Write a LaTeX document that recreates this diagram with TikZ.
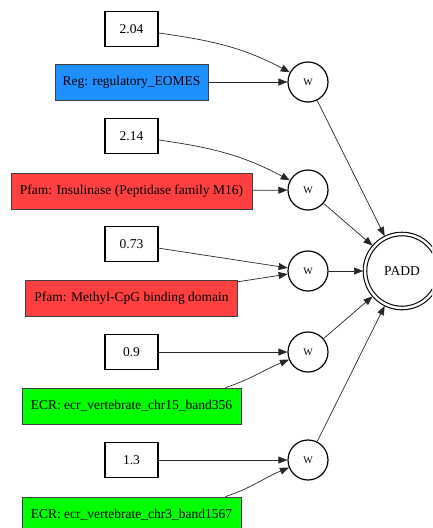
\documentclass[tikz,border=0pt]{standalone}
\usepackage{fontspec}
\setmainfont{Liberation Serif}
\usetikzlibrary{arrows.meta}
\definecolor{regblue}{HTML}{1E90FF}
\definecolor{pfamred}{HTML}{FF4040}
\definecolor{ecrgreen}{HTML}{00FF00}
\tikzset{
  lbl/.style={font=\fontsize{13.5}{15}\selectfont},
  numbox/.style={lbl, draw=black, line width=1.4pt, minimum width=53pt, minimum height=35pt, inner sep=2pt},
  featbox/.style={lbl, draw=black!75, line width=0.8pt, minimum height=36pt, inner sep=2pt},
  wnode/.style={circle, draw=black, line width=1.2pt, minimum size=40pt, inner sep=0pt, font=\fontsize{10}{12}\selectfont},
  outnode/.style={circle, draw=black, line width=1.1pt, double, double distance=2.4pt, minimum size=74pt, inner sep=0pt, outer sep=2pt, lbl},
  link/.style={draw=black!85, line width=0.7pt, -{Triangle[length=9pt, width=7pt]}}
}
\begin{document}
\begin{tikzpicture}[x=1pt, y=-1pt]
  \useasboundingbox (0,0) rectangle (432,528);
  \clip (0,0) rectangle (432,528);

  % weights and features
  \node[numbox] (n1) at (131.5,29) {2.04};
  \node[featbox, fill=regblue, minimum width=153pt] (f1) at (131.5,82) {Reg: regulatory\_EOMES};
  \node[numbox] (n2) at (131.5,136) {2.14};
  \node[featbox, fill=pfamred, minimum width=241pt] (f2) at (131.5,191) {Pfam: Insulinase (Peptidase family M16)};
  \node[numbox] (n3) at (131.5,244) {0.73};
  \node[featbox, fill=pfamred, minimum width=212pt] (f3) at (131.5,298) {Pfam: Methyl-CpG binding domain};
  \node[numbox] (n4) at (131.5,352) {0.9};
  \node[featbox, fill=ecrgreen, minimum width=219pt] (f4) at (131.5,406) {ECR: ecr\_vertebrate\_chr15\_band356};
  \node[numbox] (n5) at (131.5,460) {1.3};
  \node[featbox, fill=ecrgreen, minimum width=219pt] (f5) at (131.5,515) {ECR: ecr\_vertebrate\_chr3\_band1567};

  % product nodes
  \node[wnode] (w1) at (308,82) {W};
  \node[wnode] (w2) at (308,190) {W};
  \node[wnode] (w3) at (308,271) {W};
  \node[wnode] (w4) at (308,352) {W};
  \node[wnode] (w5) at (308,460) {W};

  % output
  \node[outnode] (padd) at (402,271) {PADD};

  % edges into the product nodes
  \draw[link] ([yshift=-4pt]n1.east) to[out=-8, in=152] (w1);
  \draw[link] (f1) -- (w1);
  \draw[link] ([yshift=-4pt]n2.east) to[out=-8, in=152] (w2);
  \draw[link] (f2) -- (w2);
  \draw[link] (n3) -- (w3);
  \draw[link] (f3) -- (w3);
  \draw[link] (n4) -- (w4);
  \draw[link] ([xshift=-16pt]f4.north east) to[out=18, in=202] (w4);
  \draw[link] (n5) -- (w5);
  \draw[link] ([xshift=-16pt]f5.north east) to[out=18, in=202] (w5);

  % edges into the output
  \draw[link] (w1) -- (padd);
  \draw[link] (w2) -- (padd);
  \draw[link] (w3) -- (padd);
  \draw[link] (w4) -- (padd);
  \draw[link] (w5) -- (padd);
\end{tikzpicture}
\end{document}
